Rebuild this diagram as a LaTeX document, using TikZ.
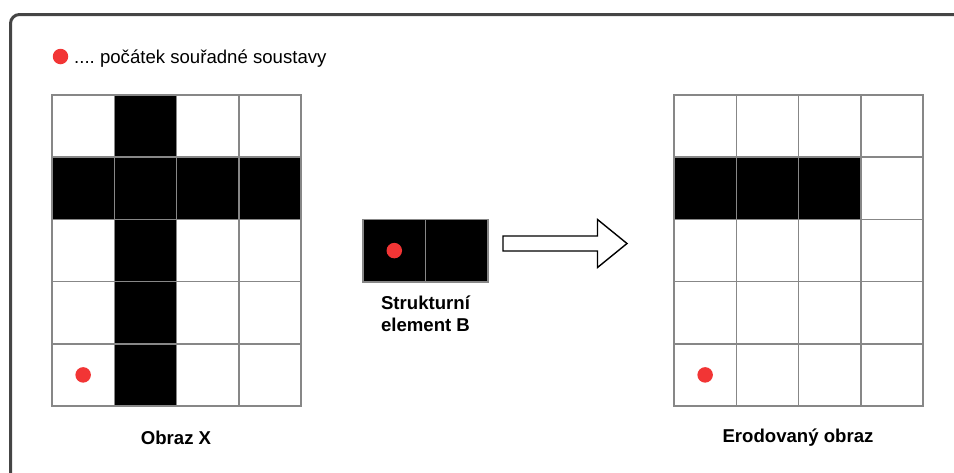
\documentclass[tikz,border=0pt]{standalone}
\usepackage{fontspec}
\setmainfont{Liberation Sans}
\begin{document}
\frenchspacing
\begin{tikzpicture}[x=1pt,y=-1pt,
  cell/.style={draw=gridgray,line width=1.6pt,minimum width=62.3pt,minimum height=62.2pt,inner sep=0pt,outer sep=0pt,fill=white},
  full/.style={cell,fill=black},
  origin/.style={circle,fill=dotred,minimum size=15.5pt,inner sep=0pt},
  caption/.style={font=\fontsize{18.6}{22.5}\selectfont\bfseries,align=center,inner sep=0pt},
  frame/.style={draw=framegray,line width=3pt,rounded corners=9pt}]
\definecolor{gridgray}{HTML}{878787}
\definecolor{dotred}{HTML}{F23535}
\definecolor{framegray}{HTML}{454545}
\useasboundingbox (0,0) rectangle (954,472);
\clip (0,0) rectangle (954,472);
% outer frame, running off the page to the right and bottom
\draw[frame] (10.5,14.5) rectangle (1000,530);
% legend
\node[origin] (legdot) at (60.5,56.5) {};
\node[anchor=base west,inner sep=0pt,font=\fontsize{18.6}{22}\selectfont] (legtext) at (74,63.5) {.... počátek souřadné soustavy};
% image X: 4 columns x 5 rows, a cross
\foreach \r in {0,...,4}{
  \foreach \c in {0,...,3}{
    \node[cell] (X\r\c) at ({52+62.3*\c+31.15},{95+62.2*\r+31.1}) {};
  }
}
\foreach \r/\c in {0/1,1/0,1/1,1/2,1/3,2/1,3/1,4/1}{
  \node[full] at (X\r\c) {};
}
\node[origin] (Xdot) at (X40) {};
\node[caption] (Xlabel) at (176,438) {Obraz X};
% structuring element B
\node[full] (B0) at (394.3,250.6) {};
\node[full] (B1) at (456.6,250.6) {};
\node[origin] (Bdot) at (B0) {};
\node[caption] (Blabel) at (425.5,314) {Strukturní\\element B};
% block arrow
\draw[line width=1.4pt,fill=white,line join=miter]
  (503,236) -- (597.5,236) -- (597.5,219.5) -- (627,243.5) -- (597.5,267.5)
  -- (597.5,251) -- (503,251) -- cycle;
% eroded image
\foreach \r in {0,...,4}{
  \foreach \c in {0,...,3}{
    \node[cell] (E\r\c) at ({674+62.3*\c+31.15},{95+62.2*\r+31.1}) {};
  }
}
\foreach \c in {0,1,2}{
  \node[full] at (E1\c) {};
}
\node[origin] (Edot) at (E40) {};
\node[caption] (Elabel) at (798,438) {Erodovaný obraz};
\end{tikzpicture}
\end{document}
